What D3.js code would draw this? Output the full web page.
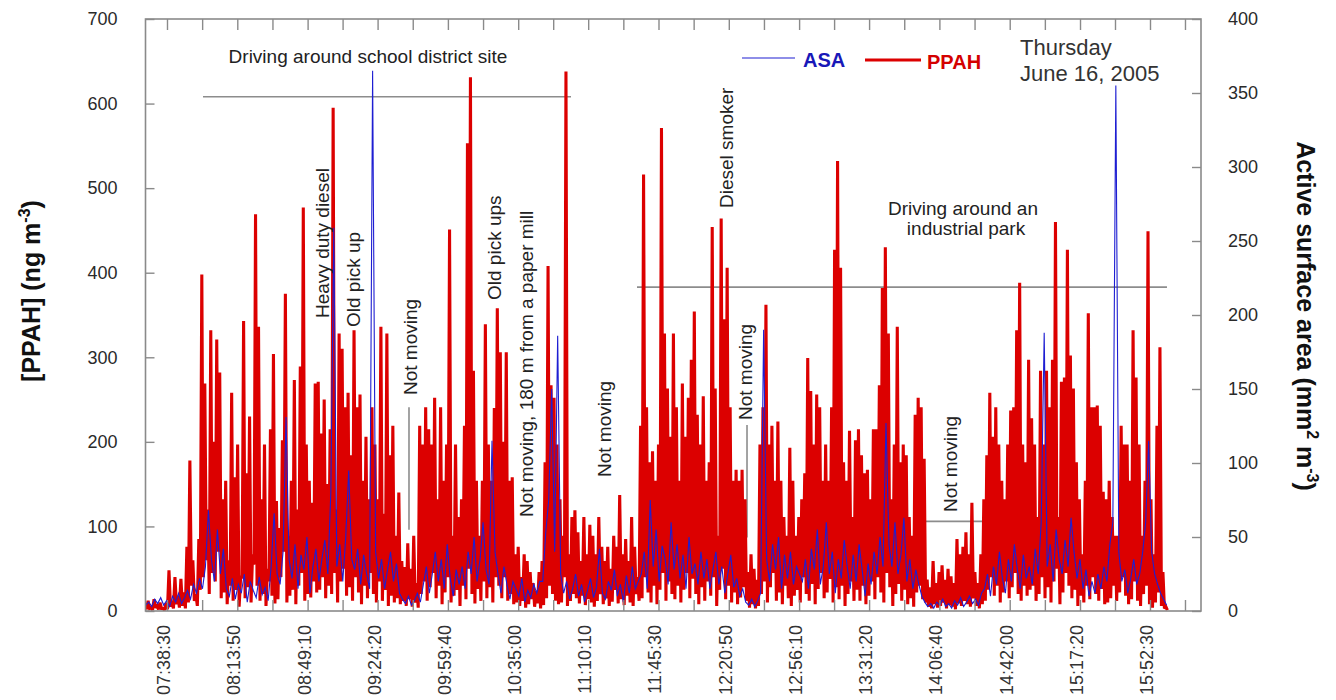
<!DOCTYPE html>
<html>
<head>
<meta charset="utf-8">
<script src="https://cdn.jsdelivr.net/npm/d3@7/dist/d3.min.js"></script>
<style>
  body { margin: 0; background: #fff; }
  svg { display: block; font-family: "Liberation Sans", Arial, sans-serif; }
</style>
</head>
<body>
<svg id="chart" width="1336" height="700"></svg>
<script>
// sampling grid of the record (one bin every 90 s)
let start_time = "07:27:30";
let step_sec = 90;

let tick_labels = ["07:38:30", "08:13:50", "08:49:10", "09:24:20", "09:59:40", "10:35:00", "11:10:10",
  "11:45:30", "12:20:50", "12:56:10", "13:31:20", "14:06:40", "14:42:00", "15:17:20", "15:52:30"];
let left_ticks = [0, 100, 200, 300, 400, 500, 600, 700];
let right_ticks = [0, 50, 100, 150, 200, 250, 300, 350, 400];

// PPAH (ng m-3): max of each bin
let ppah_high_1 = [8, 12, 4, 14, 6, 10, 3, 9, 48, 12, 40, 18, 38, 22, 76, 178, 60, 20, 85, 398, 269, 120, 332, 200, 321,
  282, 132, 154, 60, 258, 158, 197, 40, 343, 163, 230, 67, 469, 336, 132, 197, 50, 215, 304, 130, 98, 202, 375, 89,
  154, 273, 120, 289, 477, 197, 154, 128, 269];
let ppah_high_2 = [271, 210, 250, 150, 215, 595, 120, 328, 310, 241, 258, 184, 332, 241, 256, 154, 206, 132, 241, 197,
  132, 336, 115, 328, 184, 219, 89, 140, 59, 52, 80, 50, 89, 33, 219, 197, 241, 215, 197, 252, 132, 241, 154, 197, 451,
  89, 197, 111, 132, 219, 553, 631, 284, 154, 89, 154, 339, 197, 154, 240];
let ppah_high_3 = [358, 306, 200, 306, 154, 158, 67, 76, 40, 67, 59, 46, 33, 24, 46, 59, 176, 408, 267, 252, 197, 132,
  89, 638, 67, 111, 119, 93, 59, 111, 67, 102, 89, 67, 111, 76, 59, 76, 50, 89, 76, 137, 67, 85, 59, 111, 76, 40, 219,
  516, 241, 176, 189, 154, 197, 571, 328, 263, 206, 328];
let ppah_high_4 = [241, 154, 269, 206, 252, 297, 354, 232, 197, 254, 154, 176, 454, 263, 89, 464, 345, 406, 241, 154,
  167, 154, 167, 132, 46, 67, 50, 37, 197, 241, 362, 197, 219, 154, 224, 154, 111, 89, 193, 154, 89, 111, 132, 163, 299,
  260, 197, 256, 241, 154, 197, 154, 241, 427, 532, 406, 176, 154, 213, 111];
let ppah_high_5 = [202, 215, 184, 163, 167, 132, 215, 215, 267, 382, 430, 328, 132, 197, 336, 176, 197, 184, 111, 89,
  232, 252, 241, 180, 37, 28, 59, 33, 46, 54, 37, 50, 41, 33, 85, 67, 76, 93, 67, 128, 46, 33, 67, 132, 184, 258, 206,
  241, 197, 154, 132, 197, 237, 241, 332, 388, 197, 176, 297];
let ppah_high_6 = [228, 197, 111, 284, 197, 284, 241, 297, 460, 111, 271, 276, 427, 302, 263, 176, 132, 67, 154, 352,
  241, 241, 243, 219, 141, 132, 154, 111, 89, 89, 219, 197, 197, 154, 332, 276, 197, 89, 154, 449, 132, 67, 219, 312,
  46, 5];

// PPAH: min of each bin
let ppah_low_1 = [2, 3, 1, 4, 2, 3, 1, 2, 5, 3, 8, 4, 6, 3, 10, 30, 12, 6, 25, 40, 60, 20, 45, 35, 70, 15, 22, 8, 30,
  12, 25, 5, 40, 15, 28, 10, 55, 30, 12, 20, 6, 35, 18, 9, 14, 40, 70, 10, 18, 25, 8, 30, 45, 12, 20, 16, 35, 22];
let ppah_low_2 = [25, 40, 15, 30, 20, 45, 10, 35, 50, 18, 28, 12, 40, 22, 8, 30, 15, 45, 20, 10, 35, 12, 25, 6, 18, 10,
  15, 8, 12, 6, 14, 5, 10, 4, 20, 35, 12, 28, 45, 15, 30, 8, 22, 40, 10, 18, 25, 6, 30, 14, 50, 20, 9, 26, 12, 35, 15,
  28, 10, 40];
let ppah_low_3 = [30, 15, 40, 12, 20, 8, 10, 6, 12, 4, 8, 14, 5, 9, 3, 7, 15, 30, 20, 12, 8, 10, 40, 6, 12, 20, 15, 9,
  18, 7, 14, 10, 5, 12, 20, 8, 15, 6, 11, 25, 9, 14, 7, 18, 10, 6, 20, 12, 15, 40, 22, 10, 30, 8, 25, 45, 12, 35, 20, 14];
let ppah_low_4 = [30, 10, 25, 45, 15, 38, 20, 8, 28, 12, 35, 18, 40, 6, 25, 50, 14, 30, 10, 22, 8, 16, 28, 12, 4, 8, 3,
  6, 20, 35, 10, 28, 45, 12, 22, 8, 30, 15, 6, 18, 25, 10, 40, 20, 12, 32, 8, 26, 45, 15, 22, 38, 10, 28, 14, 30, 6, 20,
  35, 12];
let ppah_low_5 = [25, 12, 30, 8, 18, 35, 14, 40, 22, 10, 45, 28, 6, 20, 32, 12, 25, 8, 15, 5, 22, 30, 14, 10, 5, 3, 8,
  4, 6, 10, 3, 7, 5, 2, 9, 6, 12, 8, 5, 15, 6, 3, 8, 12, 25, 40, 18, 30, 10, 22, 35, 15, 28, 45, 20, 12, 30, 18, 25];
let ppah_low_6 = [30, 12, 20, 40, 15, 28, 10, 35, 50, 8, 22, 45, 30, 15, 25, 6, 18, 10, 30, 14, 40, 20, 12, 26, 8, 10,
  15, 30, 12, 22, 40, 18, 8, 14, 35, 12, 6, 20, 30, 8, 4, 10, 22, 6, 3, 1];

// ASA (mm2 m-3)
let asa_1 = [4, 6, 3, 8, 5, 9, 4, 7, 3, 10, 6, 12, 5, 9, 14, 8, 18, 12, 22, 15, 30, 68, 35, 20, 55, 25, 42, 15, 10, 22,
  8, 18, 12, 25, 6, 20, 14, 9, 23, 11, 16, 7, 30, 66, 25, 18, 40, 131, 35, 22, 45, 15, 38, 28, 50, 12, 30, 42];
let asa_2 = [20, 35, 48, 25, 80, 259, 30, 45, 20, 50, 95, 35, 28, 42, 18, 38, 25, 15, 365, 40, 22, 35, 15, 28, 40, 20,
  32, 12, 8, 5, 10, 4, 7, 12, 6, 18, 30, 12, 25, 40, 20, 35, 15, 45, 22, 10, 28, 18, 30, 15, 40, 25, 50, 20, 35, 60, 28,
  18, 115, 40];
let asa_3 = [25, 12, 30, 18, 8, 20, 15, 10, 22, 6, 14, 9, 18, 12, 20, 20, 53, 75, 150, 40, 186, 25, 12, 20, 8, 15, 25,
  10, 18, 6, 14, 22, 9, 16, 42, 12, 8, 20, 14, 28, 10, 18, 6, 24, 12, 30, 15, 20, 25, 40, 15, 75, 30, 55, 20, 44, 35,
  18, 60, 28];
let asa_4 = [45, 22, 38, 15, 50, 25, 32, 18, 40, 22, 35, 15, 28, 40, 18, 30, 12, 25, 38, 16, 22, 10, 15, 6, 4, 8, 3, 7,
  12, 190, 35, 20, 45, 28, 50, 15, 38, 22, 40, 18, 30, 25, 20, 35, 15, 42, 28, 55, 18, 30, 60, 25, 40, 12, 35, 22, 48,
  30, 15, 38];
let asa_5 = [20, 45, 28, 10, 32, 18, 40, 25, 50, 30, 127, 45, 30, 60, 25, 38, 63, 20, 35, 15, 28, 18, 10, 6, 3, 5, 2, 6,
  4, 8, 3, 5, 2, 7, 4, 9, 3, 6, 10, 5, 8, 4, 12, 15, 25, 10, 30, 18, 40, 22, 12, 35, 20, 45, 28, 15, 38, 22, 30];
let asa_6 = [18, 42, 25, 60, 188, 30, 45, 20, 55, 35, 25, 48, 30, 63, 40, 22, 35, 15, 28, 10, 20, 12, 25, 15, 30, 20,
  45, 60, 355, 40, 20, 28, 12, 22, 35, 18, 25, 40, 60, 115, 40, 25, 18, 12, 8, 4];

// guide lines drawn in the figure: [from, to, value on left axis]
let guide_h = [["07:56:36", "11:01:32", 608], ["11:34:42", "16:01:02", 383], ["13:57:55", "14:28:04", 106]];
let guide_v = [["09:40:07", 241, 96], ["12:29:59", 220, 87]];

let svg = d3.select("#chart");
let plot_left = 145.5, plot_right = 1201, plot_top = 19, plot_bottom = 611;
let axis_color = "#8a8a8a";

let parse_time = d3.timeParse("%H:%M:%S");
let x = d3.scaleTime()
  .domain([parse_time("07:27:27"), parse_time("16:18:08")])
  .range([145, plot_right]);
let y_left = d3.scaleLinear().domain([0, 700]).range([plot_bottom, plot_top]);
let y_right = d3.scaleLinear().domain([0, 400]).range([plot_bottom, plot_top]);

let ppah_high = [].concat(ppah_high_1, ppah_high_2, ppah_high_3, ppah_high_4, ppah_high_5, ppah_high_6);
let ppah_low = [].concat(ppah_low_1, ppah_low_2, ppah_low_3, ppah_low_4, ppah_low_5, ppah_low_6);
let asa = [].concat(asa_1, asa_2, asa_3, asa_4, asa_5, asa_6);

let t0 = parse_time(start_time);
let ppah_points = [];
ppah_high.forEach((v, i) => {
  ppah_points.push({t: d3.timeSecond.offset(t0, i * step_sec), v: v});
  if (ppah_low[i] !== undefined)
    ppah_points.push({t: d3.timeSecond.offset(t0, i * step_sec + step_sec / 2), v: ppah_low[i]});
});
let asa_points = asa.map((v, i) => ({t: d3.timeSecond.offset(t0, i * step_sec + 20), v: v}));

svg.append("defs").append("clipPath").attr("id", "plot_clip")
  .append("rect").attr("x", plot_left).attr("y", plot_top)
  .attr("width", plot_right - plot_left).attr("height", plot_bottom - plot_top);

// guide lines under the data
let guides = svg.append("g").attr("stroke", "#8c8c8c").attr("stroke-width", 1.6);
guides.selectAll(".gh").data(guide_h).enter().append("line").attr("class", "gh")
  .attr("x1", d => x(parse_time(d[0]))).attr("x2", d => x(parse_time(d[1])))
  .attr("y1", d => y_left(d[2])).attr("y2", d => y_left(d[2]));
guides.selectAll(".gv").data(guide_v).enter().append("line").attr("class", "gv")
  .attr("x1", d => x(parse_time(d[0]))).attr("x2", d => x(parse_time(d[0])))
  .attr("y1", d => y_left(d[1])).attr("y2", d => y_left(d[2]));

let plot = svg.append("g").attr("clip-path", "url(#plot_clip)");

let ppah_line = d3.line().x(d => x(d.t)).y(d => y_left(d.v));
let asa_line = d3.line().x(d => x(d.t)).y(d => y_right(d.v));

plot.append("path").datum(ppah_points)
  .attr("d", ppah_line).attr("fill", "none")
  .attr("stroke", "#dc0000").attr("stroke-width", 3.1).attr("stroke-linejoin", "miter").attr("stroke-miterlimit", 2);

plot.append("path").datum(asa_points)
  .attr("d", asa_line).attr("fill", "none")
  .attr("stroke", "#1e1ed2").attr("stroke-width", 1.1);

// frame and axes
svg.append("rect").attr("x", plot_left).attr("y", plot_top)
  .attr("width", plot_right - plot_left).attr("height", plot_bottom - plot_top)
  .attr("fill", "none").attr("stroke", axis_color).attr("stroke-width", 1.6);

let tick_dates = tick_labels.map(parse_time);
let minor_dates = d3.pairs(tick_dates).map(p => new Date((+p[0] + +p[1]) / 2));
let last_gap = (+tick_dates[tick_dates.length - 1] - +tick_dates[tick_dates.length - 2]) / 2;
minor_dates.push(new Date(+tick_dates[tick_dates.length - 1] + last_gap));
let all_ticks = tick_dates.concat(minor_dates);

let y_axis_left = svg.append("g").attr("transform", "translate(" + plot_left + ",0)")
  .call(d3.axisLeft(y_left).tickValues(left_ticks).tickSize(-9).tickSizeOuter(0).tickPadding(28));
let y_axis_right = svg.append("g").attr("transform", "translate(" + plot_right + ",0)")
  .call(d3.axisRight(y_right).tickValues(right_ticks).tickSize(-9).tickSizeOuter(0).tickPadding(27));
let x_axis_bottom = svg.append("g").attr("transform", "translate(0," + plot_bottom + ")")
  .call(d3.axisBottom(x).tickValues(all_ticks).tickSize(-11).tickSizeOuter(0).tickFormat(""));
let x_axis_top = svg.append("g").attr("transform", "translate(0," + plot_top + ")")
  .call(d3.axisTop(x).tickValues(all_ticks).tickSize(-11).tickSizeOuter(0).tickFormat(""));

[y_axis_left, y_axis_right, x_axis_bottom, x_axis_top].forEach(a => {
  a.select(".domain").remove();
  a.selectAll("line").attr("stroke", axis_color).attr("stroke-width", 1.4);
  a.selectAll("text").attr("font-size", 18).attr("fill", "#2a2a2a")
    .attr("font-family", "'Liberation Sans', Arial, sans-serif");
});

svg.append("g").selectAll("text").data(tick_dates).enter().append("text")
  .attr("transform", d => "translate(" + (x(d) + 3) + ",625) rotate(-90)")
  .attr("text-anchor", "end").attr("font-size", 18).attr("fill", "#333")
  .text(d => d3.timeFormat("%H:%M:%S")(d));

// axis titles
let left_title = svg.append("text").attr("transform", "translate(40,291) rotate(-90)")
  .attr("text-anchor", "middle").attr("font-size", 25).attr("font-weight", "bold").attr("fill", "#111");
left_title.append("tspan").text("[PPAH]  (ng m");
left_title.append("tspan").attr("dy", -10).attr("font-size", 16).text("-3");
left_title.append("tspan").attr("dy", 10).text(")");

let right_title = svg.append("text").attr("transform", "translate(1297,316) rotate(90)")
  .attr("text-anchor", "middle").attr("font-size", 25).attr("font-weight", "bold").attr("fill", "#111");
right_title.append("tspan").text("Active surface area (mm");
right_title.append("tspan").attr("dy", -10).attr("font-size", 16).text("2");
right_title.append("tspan").attr("dy", 10).text(" m");
right_title.append("tspan").attr("dy", -10).attr("font-size", 16).text("-3");
right_title.append("tspan").attr("dy", 10).text(")");

// legend
svg.append("line").attr("x1", 742).attr("x2", 795).attr("y1", 58).attr("y2", 58)
  .attr("stroke", "#1e1ed2").attr("stroke-width", 1.2);
svg.append("text").attr("x", 803).attr("y", 67).attr("font-size", 20).attr("font-weight", "bold")
  .attr("fill", "#1818b8").text("ASA");
svg.append("line").attr("x1", 865).attr("x2", 921).attr("y1", 60).attr("y2", 60)
  .attr("stroke", "#dc0000").attr("stroke-width", 3);
svg.append("text").attr("x", 927).attr("y", 69).attr("font-size", 20).attr("font-weight", "bold")
  .attr("fill", "#d40000").text("PPAH");

svg.append("text").attr("x", 1020).attr("y", 55).attr("font-size", 22).attr("fill", "#333").text("Thursday");
svg.append("text").attr("x", 1020).attr("y", 81).attr("font-size", 22).attr("fill", "#333").text("June 16, 2005");

// annotations
let notes_flat = [
  {text: "Driving around school district site", x: 368, y: 63},
  {text: "Driving around an", x: 963, y: 215},
  {text: "industrial park", x: 966, y: 235}
];
svg.append("g").selectAll("text").data(notes_flat).enter().append("text")
  .attr("x", d => d.x).attr("y", d => d.y).attr("text-anchor", "middle")
  .attr("font-size", 19).attr("fill", "#222").text(d => d.text);

let notes_up = [
  {text: "Heavy duty diesel", x: 329, y: 318},
  {text: "Old pick up", x: 360, y: 327},
  {text: "Not moving", x: 417, y: 395},
  {text: "Old pick ups", x: 501, y: 300},
  {text: "Not moving, 180 m from a paper mill", x: 533, y: 517},
  {text: "Not moving", x: 611, y: 477},
  {text: "Diesel smoker", x: 733, y: 208},
  {text: "Not moving", x: 752, y: 420},
  {text: "Not moving", x: 957, y: 512}
];
svg.append("g").selectAll("text").data(notes_up).enter().append("text")
  .attr("transform", d => "translate(" + d.x + "," + d.y + ") rotate(-90)")
  .attr("font-size", 19).attr("fill", "#222").text(d => d.text);
</script>
</body>
</html>
